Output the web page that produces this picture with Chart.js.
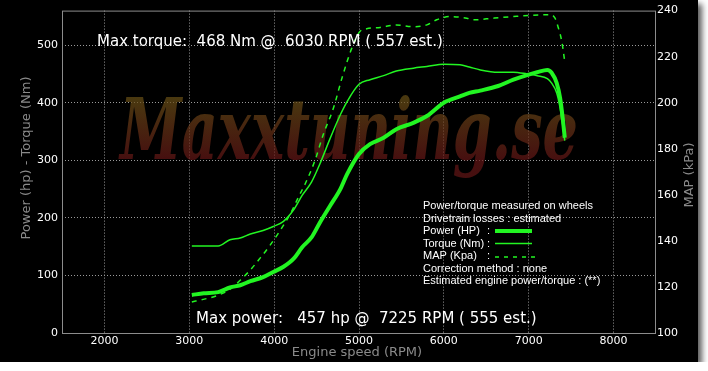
<!DOCTYPE html>
<html>
<head>
<meta charset="utf-8">
<script src="https://cdn.jsdelivr.net/npm/chart.js@4.4.1/dist/chart.umd.min.js"></script>
<style>
  html, body { margin: 0; padding: 0; background: #ffffff; }
  #wrap { width: 698px; height: 362px; box-shadow: 4px 4px 6px rgba(0, 0, 0, 0.65); }
  canvas { display: block; }
</style>
</head>
<body>
<div id="wrap"><canvas id="dyno" width="698" height="362"></canvas></div>
<script>
// Engine speed samples (RPM) for power / torque
const rpm = [3030, 3170, 3340, 3480, 3600, 3720, 3870, 3990, 4110, 4230, 4330, 4440, 4540, 4660, 4780, 4860,
             5000, 5130, 5290, 5440, 5640, 5800, 6000, 6190, 6300, 6430, 6640, 6820, 6980, 7100, 7220, 7270,
             7330, 7370, 7400, 7425];
const powerHp = [66, 69, 71, 79, 83, 90, 97, 106, 115, 129, 149, 166, 192, 221, 250, 276,
                 311, 328, 339, 354, 365, 377, 400, 411, 417, 421, 429, 440, 448, 453, 457, 452,
                 434, 408, 374, 339];
const torqueNm = [151, 151, 151, 162, 165, 172, 178, 185, 194, 214, 239, 262, 294, 338, 379, 402,
                  432, 440, 447, 455, 460, 463, 467, 466, 462, 457, 453, 453, 450, 447, 442, 434,
                  417, 391, 362, 334];

// Manifold pressure (right axis)
const mapRpm = [3030, 3165, 3340, 3480, 3600, 3715, 3830, 3950, 4070, 4190, 4285, 4365, 4480, 4580, 4700,
                4800, 4915, 5010, 5090, 5250, 5440, 5640, 5800, 5915, 6070, 6270, 6350, 6580, 6820, 7015,
                7250, 7310, 7350, 7390, 7427];
const mapKpa = [113.5, 114.6, 116.4, 119, 122.9, 127.2, 132.3, 138, 144.5, 151.7, 158.9, 164.7, 174.8, 186.3, 197.8,
                210.8, 223.7, 230.9, 232.1, 232.7, 233.8, 233, 233.8, 236, 237.4, 236.7, 236, 236.7, 237.4, 237.9,
                238.2, 236.7, 232.4, 226.6, 217.2];

const xTicks = [2000, 3000, 4000, 5000, 6000, 7000, 8000];
const leftTicks = [0, 100, 200, 300, 400, 500];
const rightTicks = [100, 120, 140, 160, 180, 200, 220, 240];

const maxTorqueText = 'Max torque:  468 Nm @  6030 RPM ( 557 est.)';
const maxPowerText = 'Max power:   457 hp @  7225 RPM ( 555 est.)';
const infoLines = ['Power/torque measured on wheels', 'Drivetrain losses : estimated',
                   'Power (HP)', 'Torque (Nm)', 'MAP (Kpa)',
                   'Correction method : none', 'Estimated engine power/torque : (**)'];

const green = '#22f522';
const grey = '#8c8c8c';

function toPoints(xs, ys) {
    return xs.map((x, i) => ({ x: x, y: ys[i] }));
}

// Background, watermark and texts
const dynoDecor = {
    id: 'dynoDecor',
    beforeDraw(chart) {
        const ctx = chart.ctx;
        ctx.save();
        ctx.fillStyle = '#000';
        ctx.fillRect(0, 0, chart.width, chart.height);
        ctx.restore();
    },
    beforeDatasetsDraw(chart) {
        const ctx = chart.ctx;
        // watermark
        ctx.save();
        ctx.font = 'italic bold 84px "DejaVu Serif"';
        const w = ctx.measureText('Maxxtuning.se').width;
        ctx.translate(120, 159);
        ctx.scale(458 / w, 1);
        const grad = ctx.createLinearGradient(0, -60, 0, 0);
        grad.addColorStop(0, 'rgba(105, 80, 22, 0.7)');
        grad.addColorStop(1, 'rgba(100, 22, 22, 0.7)');
        ctx.fillStyle = grad;
        ctx.textBaseline = 'alphabetic';
        ctx.fillText('Maxxtuning.se', 0, 0);
        ctx.restore();
    },
    afterDatasetsDraw(chart) {
        const ctx = chart.ctx;
        const a = chart.chartArea;
        ctx.save();
        // plot frame
        ctx.strokeStyle = grey;
        ctx.lineWidth = 1;
        ctx.strokeRect(a.left + 0.5, a.top + 0.5, a.right - a.left - 1, a.bottom - a.top);

        // max texts
        ctx.fillStyle = '#ffffff';
        ctx.textBaseline = 'middle';
        ctx.font = '15px "DejaVu Sans"';
        ctx.fillText(maxTorqueText, 97, 42);
        ctx.fillText(maxPowerText, 196, 319);

        // info block
        ctx.font = '11px "Liberation Sans", sans-serif';
        const y0 = 206, step = 12.5;
        infoLines.forEach((t, i) => {
            ctx.fillText(t, 423, y0 + i * step);
            if (i >= 2 && i <= 4) ctx.fillText(':', 487, y0 + i * step);
        });
        ctx.strokeStyle = green;
        ctx.lineWidth = 4;
        ctx.beginPath(); ctx.moveTo(495, y0 + 2 * step); ctx.lineTo(532, y0 + 2 * step); ctx.stroke();
        ctx.lineWidth = 1.5;
        ctx.beginPath(); ctx.moveTo(495, y0 + 3 * step); ctx.lineTo(532, y0 + 3 * step); ctx.stroke();
        ctx.setLineDash([4, 5]);
        ctx.beginPath(); ctx.moveTo(495, y0 + 4 * step + 1); ctx.lineTo(536, y0 + 4 * step + 1); ctx.stroke();
        ctx.setLineDash([]);

        // axis titles
        ctx.fillStyle = '#8a8a8a';
        ctx.textAlign = 'center';
        ctx.font = '13px "DejaVu Sans"';
        ctx.fillText('Engine speed (RPM)', 357, 353);
        ctx.save();
        ctx.translate(27, 158);
        ctx.rotate(-Math.PI / 2);
        ctx.fillText('Power (hp) - Torque (Nm)', 0, 0);
        ctx.restore();
        ctx.save();
        ctx.translate(690, 175);
        ctx.rotate(-Math.PI / 2);
        ctx.fillText('MAP (kPa)', 0, 0);
        ctx.restore();
        ctx.restore();
    }
};

const tickFont = { family: 'DejaVu Sans', size: 11 };
const plainLabel = (v) => String(v);

new Chart(document.getElementById('dyno'), {
    type: 'line',
    data: {
        datasets: [
            {
                label: 'Torque (Nm)',
                data: toPoints(rpm, torqueNm),
                yAxisID: 'y',
                borderColor: green,
                borderWidth: 1.5
            },
            {
                label: 'MAP (Kpa)',
                data: toPoints(mapRpm, mapKpa),
                yAxisID: 'y1',
                borderColor: green,
                borderWidth: 1.5,
                borderDash: [5, 5]
            },
            {
                label: 'Power (HP)',
                data: toPoints(rpm, powerHp),
                yAxisID: 'y',
                borderColor: green,
                borderWidth: 4
            }
        ]
    },
    options: {
        responsive: false,
        animation: false,
        devicePixelRatio: 1,
        layout: { padding: { top: 9, left: 0, right: 0, bottom: 0 } },
        elements: {
            point: { radius: 0 },
            line: { cubicInterpolationMode: 'monotone', fill: false }
        },
        plugins: {
            legend: { display: false },
            tooltip: { enabled: false }
        },
        scales: {
            x: {
                type: 'linear',
                min: 1500,
                max: 8500,
                afterBuildTicks: (axis) => { axis.ticks = xTicks.map((v) => ({ value: v })); },
                afterFit: (axis) => { axis.height = 29; },
                grid: { color: '#9a9a9a', drawTicks: false },
                border: { display: false, dash: [1, 2] },
                ticks: { color: '#ffffff', font: tickFont, padding: 2, maxRotation: 0, callback: plainLabel }
            },
            y: {
                position: 'left',
                min: 0,
                max: 560,
                afterBuildTicks: (axis) => { axis.ticks = leftTicks.map((v) => ({ value: v })); },
                afterFit: (axis) => { axis.width = 62; },
                grid: { color: '#9a9a9a', drawTicks: false },
                border: { display: false, dash: [1, 2] },
                ticks: { color: '#ffffff', font: tickFont, padding: 4, callback: plainLabel }
            },
            y1: {
                position: 'right',
                min: 100,
                max: 240,
                afterBuildTicks: (axis) => { axis.ticks = rightTicks.map((v) => ({ value: v })); },
                afterFit: (axis) => { axis.width = 42; },
                grid: { display: false, drawTicks: false },
                border: { display: false },
                ticks: { color: '#ffffff', font: tickFont, padding: 1, callback: plainLabel }
            }
        }
    },
    plugins: [dynoDecor]
});
</script>
</body>
</html>
